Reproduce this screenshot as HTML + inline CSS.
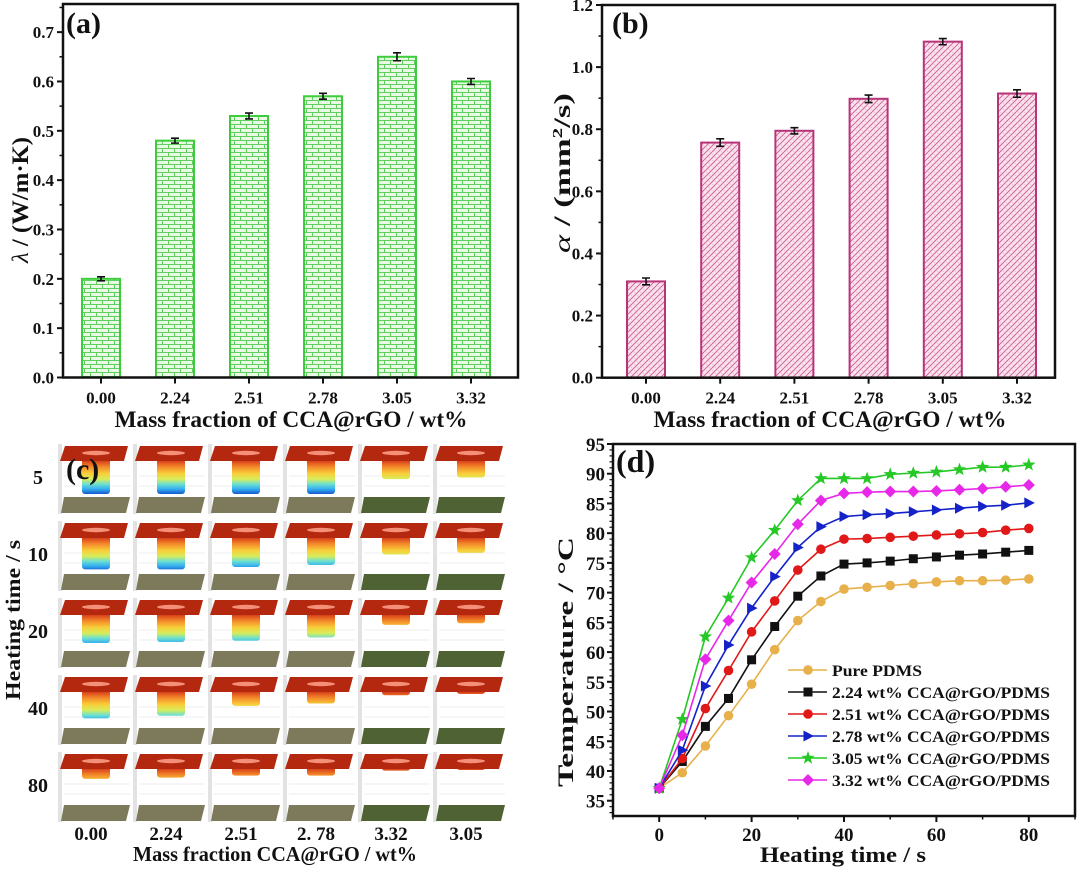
<!DOCTYPE html>
<html><head><meta charset="utf-8">
<style>
html,body{margin:0;padding:0;background:#fff;}
svg{display:block;}
text{font-family:"Liberation Serif",serif;font-weight:bold;fill:#111;}
</style></head>
<body>
<svg id="fig" width="1080" height="870" viewBox="0 0 1080 870" xmlns="http://www.w3.org/2000/svg">
<defs>
  <pattern id="brick" width="12" height="8" patternUnits="userSpaceOnUse">
    <rect width="12" height="8" fill="#eaf9e4"/>
    <path d="M0 0.5H12M0 4.5H12M0.5 0.5V4.5M6.5 4.5V8.5" stroke="#5fcf5f" stroke-width="1" fill="none"/>
  </pattern>
  <pattern id="hatch" width="6" height="6" patternUnits="userSpaceOnUse">
    <rect width="6" height="6" fill="#fbe4ee"/>
    <path d="M-1 7L7 -1M-1 1L1 -1M5 7L7 5" stroke="#c85a92" stroke-width="0.9" fill="none"/>
    <path d="M-1 -1L7 7" stroke="#e9b0cc" stroke-width="0.6" fill="none"/>
  </pattern>
</defs>
<g id="pa"></g>
<g id="pb"></g>
<g id="pc"></g>
<g id="pd"></g>
</svg>
<script>
// ---------- data ----------
const categories = ["0.00","2.24","2.51","2.78","3.05","3.32"];
const lambdaValues = [0.20,0.48,0.53,0.57,0.65,0.60];
const lambdaErrors = [0.004,0.005,0.006,0.006,0.008,0.006];
const lambdaTicks = [0.0,0.1,0.2,0.3,0.4,0.5,0.6,0.7];
const alphaValues = [0.31,0.757,0.795,0.898,1.082,0.915];
const alphaErrors = [0.011,0.012,0.010,0.012,0.010,0.012];
const alphaTicks = [0.0,0.2,0.4,0.6,0.8,1.0,1.2];

const imgCols = ["0.00","2.24","2.51","2. 78","3.32","3.05"];
const imgRows = ["5","10","20","40","80"];
const imgDepth = [
  [1.00,1.00,1.00,1.00,0.55,0.50],
  [0.95,0.95,0.88,0.82,0.50,0.45],
  [0.85,0.82,0.78,0.68,0.30,0.25],
  [0.80,0.72,0.42,0.35,0.10,0.06],
  [0.30,0.26,0.20,0.20,0.05,0.03]
];

const times = [0,5,10,15,20,25,30,35,40,45,50,55,60,65,70,75,80];
const tPure = [37.1,39.7,44.2,49.3,54.6,60.4,65.3,68.5,70.6,70.9,71.2,71.5,71.8,72.0,72.0,72.1,72.3];
const t224 = [37.1,41.6,47.5,52.2,58.7,64.3,69.4,72.8,74.8,75.0,75.3,75.7,76.0,76.3,76.5,76.8,77.1];
const t251 = [37.1,42.1,50.5,56.9,63.4,68.6,73.8,77.3,79.0,79.1,79.3,79.5,79.7,79.9,80.1,80.5,80.8];
const t278 = [37.1,43.5,54.3,61.2,67.4,72.7,77.6,81.1,82.8,83.1,83.3,83.6,83.9,84.2,84.5,84.7,85.1];
const t305 = [37.1,48.7,62.6,69.1,75.9,80.5,85.5,89.2,89.2,89.2,89.9,90.1,90.3,90.7,91.1,91.1,91.5];
const t332 = [37.1,46.0,58.8,65.3,71.7,76.5,81.5,85.5,86.7,86.9,87.0,87.0,87.1,87.3,87.5,87.8,88.1];
const seriesNames = ["Pure PDMS","2.24 wt%  CCA@rGO/PDMS","2.51 wt%  CCA@rGO/PDMS","2.78 wt%  CCA@rGO/PDMS","3.05 wt%  CCA@rGO/PDMS","3.32 wt%  CCA@rGO/PDMS"];
const tempTicks = [35,40,45,50,55,60,65,70,75,80,85,90,95];
const timeTicks = [0,20,40,60,80];

// ---------- helpers ----------
const NS="http://www.w3.org/2000/svg";
function mk(parent,tag,attrs,txt){const e=document.createElementNS(NS,tag);for(const k in attrs)e.setAttribute(k,attrs[k]);if(txt!==undefined)e.textContent=txt;parent.appendChild(e);return e;}

// ---------- bar panel ----------
function barPanel(g,o){
  const {left,right,top,bottom,ymax,vals,errs,ticks,minorStep,fill,stroke,x0,step}=o;
  const y=v=>bottom-(v/ymax)*(bottom-top);
  const x=i=>x0+i*step;
  const bw=38;
  vals.forEach((v,i)=>{
    const r=mk(g,'rect',{x:x(i)-bw/2,y:y(v),width:bw,height:bottom-y(v),fill:fill,stroke:stroke,'stroke-width':2});
    
    
    const e=mk(g,'path',{d:`M${x(i)} ${y(v+errs[i])}V${y(v-errs[i])}M${x(i)-4} ${y(v+errs[i])}H${x(i)+4}M${x(i)-4} ${y(v-errs[i])}H${x(i)+4}`,stroke:'#111','stroke-width':1.6,fill:'none'});
    
    
  });
  mk(g,'rect',{x:left,y:top,width:right-left,height:bottom-top,fill:'none',stroke:'#111','stroke-width':2.5});
  const yt=mk(g,'g',{});
  
  
  ticks.forEach(t=>{
    mk(yt,'line',{x1:left-6,x2:left,y1:y(t),y2:y(t),stroke:'#111','stroke-width':2});
    mk(yt,'text',{x:left-9,y:y(t)+6,'text-anchor':'end','font-size':17},t.toFixed(1));
  });
  for(let v=minorStep;v<ymax;v+=minorStep*2){mk(yt,'line',{x1:left-3.5,x2:left,y1:y(v),y2:y(v),stroke:'#111','stroke-width':1.5});}
  const xt=mk(g,'g',{});
  
  
  categories.forEach((c,i)=>{
    mk(xt,'line',{x1:x(i),x2:x(i),y1:bottom,y2:bottom+6,stroke:'#111','stroke-width':2});
    mk(xt,'text',{x:x(i),y:bottom+26,'text-anchor':'middle','font-size':17},c);
  });
}

const pa=document.getElementById('pa');
barPanel(pa,{left:63,right:518,top:4,bottom:377.5,ymax:0.757,vals:lambdaValues,errs:lambdaErrors,ticks:lambdaTicks,minorStep:0.05,fill:'url(#brick)',stroke:'#3ccc3c',x0:101,step:74});
const pb=document.getElementById('pb');
barPanel(pb,{left:602,right:1055,top:5,bottom:377.7,ymax:1.2,vals:alphaValues,errs:alphaErrors,ticks:alphaTicks,minorStep:0.1,fill:'url(#hatch)',stroke:'#b83478',x0:646,step:74.2});
</script>
<script>
(function(){
  const pa=document.getElementById('pa'), pb=document.getElementById('pb');
  let t=mk(pa,'text',{x:66,y:33,'font-size':30},'(a)');
  
  t=mk(pa,'text',{x:291,y:427,'text-anchor':'middle','font-size':23,textLength:353,lengthAdjust:'spacingAndGlyphs'},'Mass fraction of CCA@rGO / wt%');
  
  t=mk(pa,'text',{transform:'translate(28,200) rotate(-90)','text-anchor':'middle','font-size':23,textLength:126,lengthAdjust:'spacingAndGlyphs'});
  
  mk(t,'tspan',{'font-style':'italic','font-weight':'normal'},'λ');mk(t,'tspan',{},' / (W/m·K)');

  t=mk(pb,'text',{x:612,y:33,'font-size':30},'(b)');
  
  t=mk(pb,'text',{x:830,y:427,'text-anchor':'middle','font-size':23,textLength:353,lengthAdjust:'spacingAndGlyphs'},'Mass fraction of CCA@rGO / wt%');
  
  t=mk(pb,'text',{transform:'translate(570,173) rotate(-90)','text-anchor':'middle','font-size':23,textLength:160,lengthAdjust:'spacingAndGlyphs'});
  
  mk(t,'tspan',{'font-style':'italic','font-weight':'normal'},'α');mk(t,'tspan',{},' / (mm');mk(t,'tspan',{'font-size':14,dy:-8},'2');mk(t,'tspan',{dy:8},'/s)');
})();

// ---------- panel c ----------
(function(){
  const g=document.getElementById('pc');
  const defs=document.querySelector('defs');
  const colX=i=>94+i*75;
  const rowY=r=>446+r*77;
  imgRows.forEach((lab,r)=>{
    const y0=rowY(r);
    const gr=mk(defs,'linearGradient',{id:'heat'+r,gradientUnits:'userSpaceOnUse',x1:0,y1:y0+15,x2:0,y2:y0+48});
    [[0,'#d8401a'],[0.18,'#f48a2a'],[0.38,'#f8cf3a'],[0.55,'#d8ec5a'],[0.7,'#6ee0d0'],[0.85,'#34aef0'],[1,'#1458cc']].forEach(s=>mk(gr,'stop',{offset:s[0],'stop-color':s[1]}));
    let t=mk(g,'text',{x:38,y:y0+38,'text-anchor':'middle','font-size':20},lab);
    
    imgCols.forEach((c,i)=>{
      const cx=colX(i);
      const cell=mk(g,'g',{});
      
      
      mk(cell,'rect',{x:cx-36,y:y0-2,width:4,height:70,fill:'#e2e2e2'});
      mk(cell,'path',{d:`M${cx-30} ${y0+30}H${cx+36}M${cx-30} ${y0+40}H${cx+36}`,stroke:'#eee','stroke-width':1});
      const d=imgDepth[r][i];
      mk(cell,'rect',{x:cx-12,y:y0+12,width:28,height:3+d*33,rx:3,fill:'url(#heat'+r+')'});
      mk(cell,'polygon',{points:`${cx-34},${y0+15} ${cx-29},${y0} ${cx+34},${y0} ${cx+30},${y0+15}`,fill:'#b52810'});
      mk(cell,'ellipse',{cx:cx+2,cy:y0+7,rx:14,ry:2.2,fill:'#f49078'});
      const dark=i>=4;
      mk(cell,'polygon',{points:`${cx-33},${y0+67} ${cx-30},${y0+51} ${cx+36},${y0+51} ${cx+32},${y0+67}`,fill:dark?'#4f6234':'#7d7a5c'});
    });
  });
  imgCols.forEach((c,i)=>{
    const t=mk(g,'text',{x:colX(i)-3,y:840,'text-anchor':'middle','font-size':19},c);
    
  });
  let t=mk(g,'text',{x:66,y:479,'font-size':30},'(c)');
  
  t=mk(g,'text',{x:275,y:861,'text-anchor':'middle','font-size':21,textLength:284,lengthAdjust:'spacingAndGlyphs'},'Mass fraction CCA@rGO / wt%');
  
  t=mk(g,'text',{transform:'translate(20,620) rotate(-90)','text-anchor':'middle','font-size':21,textLength:160,lengthAdjust:'spacingAndGlyphs'},'Heating time / s');
  
})();

// ---------- panel d ----------
(function(){
  const g=document.getElementById('pd');
  const L=613,R=1075,T=444,B=816;
  const x=v=>L+(v+10)/100*(R-L);
  const yy=v=>444+(95-v)*5.945;
  const colors=['#e8b04a','#111111','#e01818','#1422c8','#26c826','#e828e8'];
  const data=[tPure,t224,t251,t278,t305,t332];
  const shapes=['circle','square','circle','tri','star','diamond'];
  function marker(p,s,cx,cy,col){
    let e;
    if(s==='circle') e=mk(p,'circle',{cx:cx,cy:cy,r:4.8,fill:col});
    else if(s==='square') e=mk(p,'rect',{x:cx-4.5,y:cy-4.5,width:9,height:9,fill:col});
    else if(s==='tri') e=mk(p,'polygon',{points:`${cx-4.5},${cy-5.5} ${cx+6},${cy} ${cx-4.5},${cy+5.5}`,fill:col});
    else if(s==='diamond') e=mk(p,'polygon',{points:`${cx},${cy-6} ${cx+6},${cy} ${cx},${cy+6} ${cx-6},${cy}`,fill:col});
    else {let pts=[];for(let k=0;k<10;k++){const a=-Math.PI/2+k*Math.PI/5;const r=k%2?2.9:7;pts.push((cx+r*Math.cos(a)).toFixed(1)+','+(cy+r*Math.sin(a)).toFixed(1));}e=mk(p,'polygon',{points:pts.join(' '),fill:col});}
    return e;
  }
  data.forEach((arr,si)=>{
    const sg=mk(g,'g',{});
    
    
    mk(sg,'polyline',{points:arr.map((v,i)=>x(times[i])+','+yy(v)).join(' '),fill:'none',stroke:colors[si],'stroke-width':1.6});
    arr.forEach((v,i)=>{
      const m=marker(sg,shapes[si],x(times[i]),yy(v),colors[si]);
      
      
    });
  });
  mk(g,'rect',{x:L,y:T,width:R-L,height:B-T,fill:'none',stroke:'#111','stroke-width':2.5});
  const yt=mk(g,'g',{});
  
  tempTicks.forEach(t=>{
    mk(yt,'line',{x1:L-6,x2:L,y1:yy(t),y2:yy(t),stroke:'#111','stroke-width':2});
    mk(yt,'text',{x:L-8,y:yy(t)+7,'text-anchor':'end','font-size':19},t);
  });
  for(let v=33;v<95;v+=1){if(v%5)mk(yt,'line',{x1:L-3.5,x2:L,y1:yy(v),y2:yy(v),stroke:'#111','stroke-width':1.2});}
  const xt=mk(g,'g',{});
  
  timeTicks.forEach(t=>{
    mk(xt,'line',{x1:x(t),x2:x(t),y1:B,y2:B+6,stroke:'#111','stroke-width':2});
    mk(xt,'text',{x:x(t),y:B+25,'text-anchor':'middle','font-size':19},t);
  });
  for(let v=-10;v<=90;v+=10){if(v%20)mk(xt,'line',{x1:x(v),x2:x(v),y1:B,y2:B+3.5,stroke:'#111','stroke-width':1.5});}
  let t=mk(g,'text',{x:616,y:472,'font-size':32},'(d)');
  
  t=mk(g,'text',{x:843,y:862,'text-anchor':'middle','font-size':22,textLength:166,lengthAdjust:'spacingAndGlyphs'},'Heating time / s');
  
  t=mk(g,'text',{transform:'translate(573,662) rotate(-90)','text-anchor':'middle','font-size':22,textLength:250,lengthAdjust:'spacingAndGlyphs'},'Temperature / °C');
  
  const lg=mk(g,'g',{});
  
  seriesNames.forEach((n,i)=>{
    const ly=670+i*22;
    const en=mk(lg,'g',{});
    
    
    mk(en,'line',{x1:788,x2:827,y1:ly,y2:ly,stroke:colors[i],'stroke-width':1.6});
    marker(en,shapes[i],808,ly,colors[i]);
    mk(en,'text',{x:832,y:ly+6,'font-size':16,textLength:(i===0?90:218),lengthAdjust:'spacingAndGlyphs','xml:space':'preserve'},n);
  });
})();
</script>
</body></html>
